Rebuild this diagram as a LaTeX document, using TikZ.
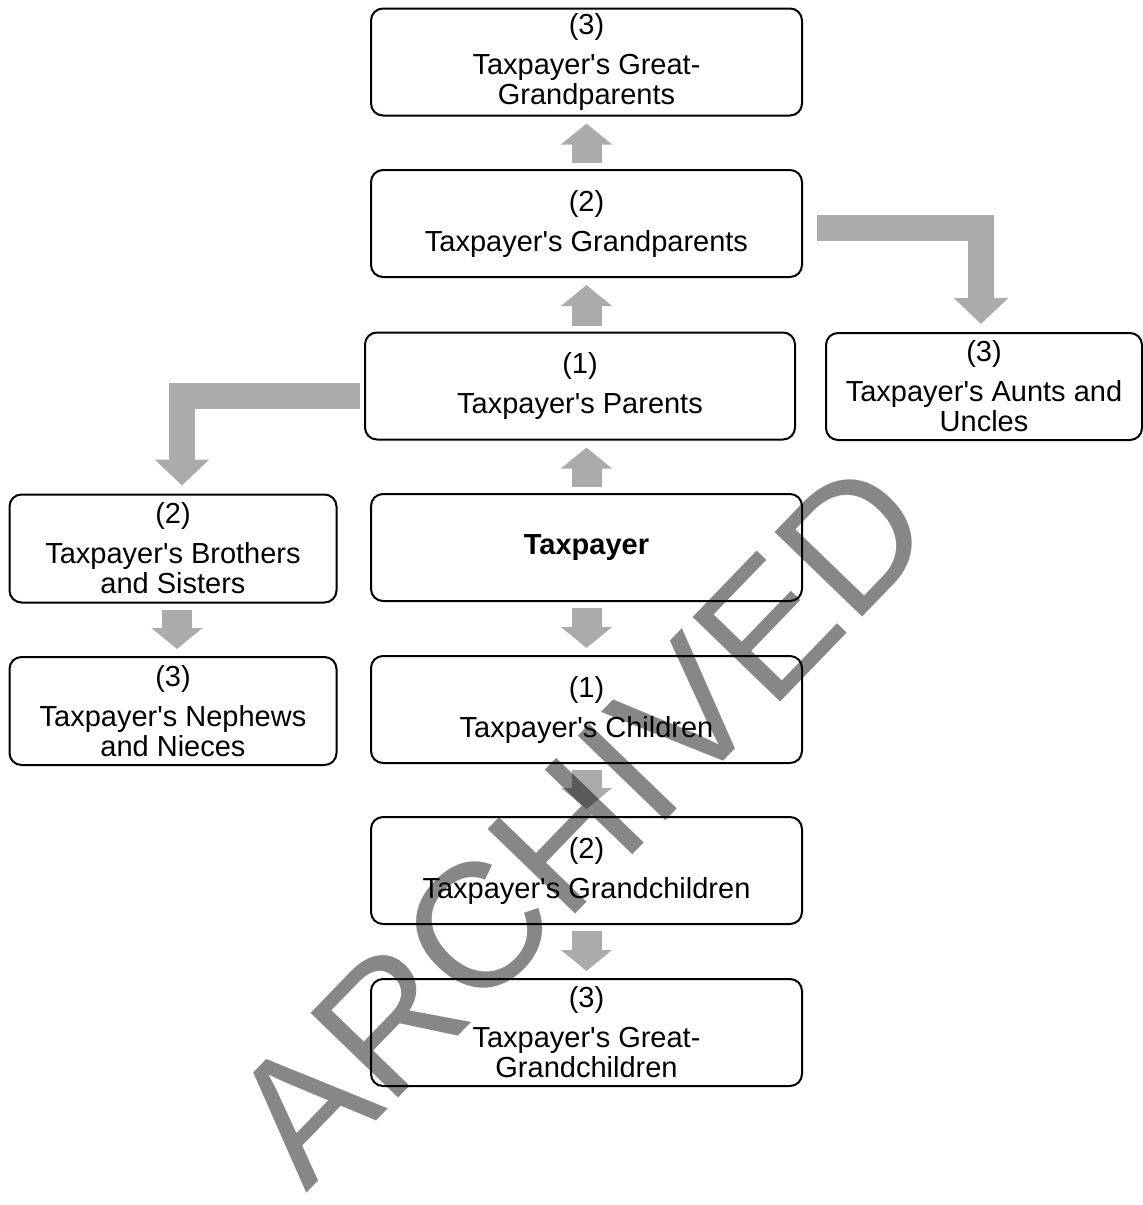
\documentclass[tikz,border=0pt]{standalone}
\usepackage{fontspec}
\setmainfont{Liberation Sans}
\usetikzlibrary{arrows.meta}

\definecolor{arrowgray}{RGB}{171,171,171}
\newcommand{\tps}{Taxpayer\textquotesingle s}

\tikzset{
  relbox/.style={draw, line width=2pt, rounded corners=12pt, align=center,
    inner sep=0pt, minimum width=431pt, minimum height=107pt,
    font=\fontsize{29}{30}\selectfont},
  sidebox/.style={relbox, minimum width=327pt, minimum height=108pt},
  linkarrow/.style={draw=arrowgray, line width=30pt,
    -{Triangle[width=50pt,length=21pt]}, shorten <=6pt, shorten >=7pt},
  bendarrow/.style={draw=arrowgray, line width=26pt,
    -{Triangle[width=53pt,length=26pt]}, shorten >=8pt},
}

\begin{document}
\begin{tikzpicture}[x=1pt,y=-1pt]

 \useasboundingbox (0,0) rectangle (1143,1205);

 % Ancestors
 \node[relbox] (ggp) at (586.5,62) {(3)\\[10pt]\tps{} Great-\\Grandparents};
 \node[relbox] (gp) at (586.5,223.5) {(2)\\[10pt]\tps{} Grandparents};
 \node[relbox, minimum width=430pt] (par) at (580,386) {(1)\\[10pt]\tps{} Parents};
 \node[relbox, minimum width=316pt] (aunts) at (984,386.5) {(3)\\[10pt]\tps{} Aunts and\\Uncles};

 % Taxpayer and siblings
 \node[sidebox] (bros) at (173,548.5) {(2)\\[10pt]\tps{} Brothers\\and Sisters};
 \node[relbox] (tp) at (586.5,547.5) {\bfseries Taxpayer};
 \node[sidebox] (neph) at (173,711) {(3)\\[10pt]\tps{} Nephews\\and Nieces};

 % Descendants
 \node[relbox] (chil) at (586.5,709.5) {(1)\\[10pt]\tps{} Children};
 \node[relbox] (gch) at (586.5,870.5) {(2)\\[10pt]\tps{} Grandchildren};
 \node[relbox] (ggch) at (586.5,1032.5) {(3)\\[10pt]\tps{} Great-\\Grandchildren};

 % Upward arrows
 \draw[linkarrow] (gp.north) -- (gp.north |- ggp.south);
 \draw[linkarrow] (gp.south |- par.north) -- (gp.south);
 \draw[linkarrow] (tp.north) -- (tp.north |- par.south);

 % Downward arrows
 \draw[linkarrow] (tp.south) -- (chil.north);
 \draw[linkarrow] (chil.south) -- (gch.north);
 \draw[linkarrow] (gch.south) -- (ggch.north);
 \draw[linkarrow] ([xshift=4pt]bros.south) -- ([xshift=4pt]neph.north);

 % Bent arrows to the side branches
 \draw[bendarrow] ([xshift=14pt,yshift=-4pt]gp.east) -| ([xshift=-3pt]aunts.north);
 \draw[bendarrow] ([xshift=-4pt,yshift=-9.5pt]par.west) -| ([xshift=9pt]bros.north);

 % Watermark
 \node[rotate=46, inner sep=0pt, text=black, text opacity=0.47,
   font=\fontsize{177}{177}\selectfont] (stamp) at (580,822) {ARCHIVED};

\end{tikzpicture}
\end{document}
